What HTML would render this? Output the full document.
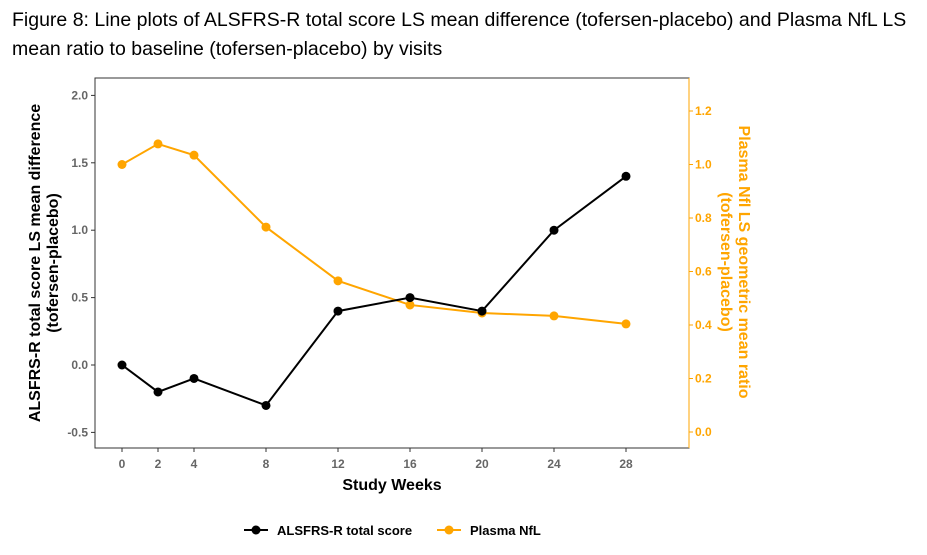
<!DOCTYPE html>
<html><head><meta charset="utf-8"><style>
body{margin:0;background:#fff;width:927px;height:555px;overflow:hidden;font-family:"Liberation Sans",sans-serif}
#title{position:absolute;left:12px;top:6px;font-size:19.5px;line-height:29px;color:#000;width:912px;white-space:nowrap}
svg{position:absolute;left:0;top:0}
</style></head><body>
<div id="title">Figure 8: Line plots of ALSFRS-R total score LS mean difference (tofersen-placebo) and Plasma NfL LS<br>mean ratio to baseline (tofersen-placebo) by visits</div>
<svg id="chart" width="927" height="555"></svg>
<script>
const weeks=[0,2,4,8,12,16,20,24,28];
const alsfrs=[0,-0.2,-0.1,-0.3,0.4,0.5,0.4,1.0,1.4];
const nfl=[1.0,1.077,1.035,0.766,0.565,0.475,0.445,0.434,0.404];
const leftTicks=[-0.5,0.0,0.5,1.0,1.5,2.0];
const rightTicks=[0.0,0.2,0.4,0.6,0.8,1.0,1.2];
const xTicks=[0,2,4,8,12,16,20,24,28];
const svg=document.getElementById('chart');
const NS='http://www.w3.org/2000/svg';
const X=w=>122+w*18;
const YL=v=>365-v*134.8;
const YR=v=>432-v*267.5;
function mk(t,a,txt){const e=document.createElementNS(NS,t);for(const k in a)e.setAttribute(k,a[k]);if(txt!==undefined)e.textContent=txt;svg.appendChild(e);return e;}
const OR='#FFA500',GR='#666';
let e=mk('rect',{x:95,y:78,width:594,height:370,fill:'none',stroke:'#333','stroke-width':1});


e=mk('line',{x1:689,y1:78,x2:689,y2:448,stroke:OR,'stroke-width':1});


leftTicks.forEach(v=>{
 mk('line',{x1:91,x2:95,y1:YL(v),y2:YL(v),stroke:'#333'});
 e=mk('text',{x:88,y:YL(v)+4,'text-anchor':'end','font-size':12,'font-weight':'bold',fill:GR},v.toFixed(1));
 
 
});
rightTicks.forEach(v=>{
 mk('line',{x1:689,x2:693,y1:YR(v),y2:YR(v),stroke:OR});
 e=mk('text',{x:695,y:YR(v)+4,'font-size':12,'font-weight':'bold',fill:OR},v.toFixed(1));
 
 
});
xTicks.forEach(v=>{
 mk('line',{x1:X(v),x2:X(v),y1:448,y2:452,stroke:'#333'});
 e=mk('text',{x:X(v),y:468,'text-anchor':'middle','font-size':12,'font-weight':'bold',fill:GR},v);
 
 
});
e=mk('text',{x:392,y:490,'text-anchor':'middle','font-size':16,'font-weight':'bold',fill:'#000'},'Study Weeks');


e=mk('text',{transform:'translate(40,263) rotate(-90)','text-anchor':'middle','font-size':16,'font-weight':'bold',fill:'#000'},'ALSFRS-R total score LS mean difference');


e=mk('text',{transform:'translate(58,263) rotate(-90)','text-anchor':'middle','font-size':16,'font-weight':'bold',fill:'#000'},'(tofersen-placebo)');


e=mk('text',{transform:'translate(739,262) rotate(90)','text-anchor':'middle','font-size':16,'font-weight':'bold',fill:OR},'Plasma Nfl LS geometric mean ratio');


e=mk('text',{transform:'translate(721,262) rotate(90)','text-anchor':'middle','font-size':16,'font-weight':'bold',fill:OR},'(tofersen-placebo)');


function series(vals,Y,col,name){
 e=mk('polyline',{points:weeks.map((w,i)=>X(w)+','+Y(vals[i])).join(' '),fill:'none',stroke:col,'stroke-width':2});
 
 
 weeks.forEach((w,i)=>{
  e=mk('circle',{cx:X(w),cy:Y(vals[i]),r:4.5,fill:col});
  
  
 });
}
series(nfl,YR,OR,'nfl');
series(alsfrs,YL,'#000','alsfrs');
mk('line',{x1:244,x2:268,y1:530,y2:530,stroke:'#000','stroke-width':2});
mk('circle',{cx:256,cy:530,r:4.5,fill:'#000'});
e=mk('text',{x:277,y:535,'font-size':13,'font-weight':'bold',fill:'#000'},'ALSFRS-R total score');


mk('line',{x1:437,x2:461,y1:530,y2:530,stroke:OR,'stroke-width':2});
mk('circle',{cx:449,cy:530,r:4.5,fill:OR});
e=mk('text',{x:470,y:535,'font-size':13,'font-weight':'bold',fill:'#000'},'Plasma NfL');


</script>
</body></html>
